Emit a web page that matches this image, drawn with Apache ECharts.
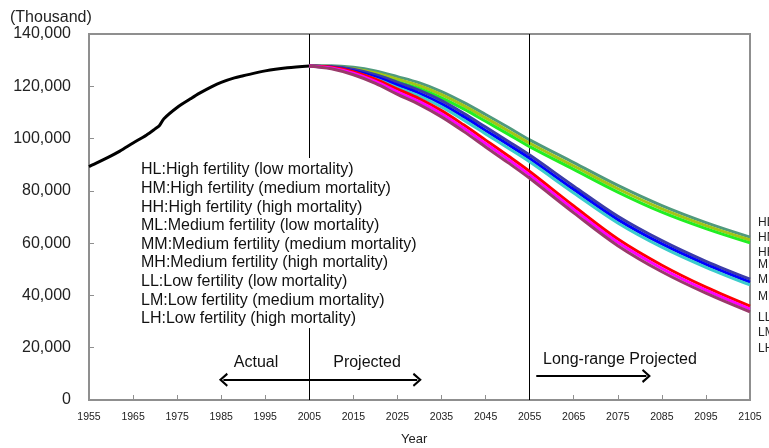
<!DOCTYPE html>
<html>
<head>
<meta charset="utf-8">
<script src="https://cdn.jsdelivr.net/npm/echarts@6/dist/echarts.min.js"></script>
<style>
  html, body { margin: 0; padding: 0; background: #fff; }
  #chart { width: 769px; height: 448px; }
</style>
</head>
<body>
<div id="chart"></div>
<script>
// x axis runs in "years since 1955" so the ticks start at 1955
const BASE_YEAR = 1955;

const actualYears = [1955, 1957, 1960, 1962, 1965, 1968, 1970, 1971, 1972, 1975, 1978, 1980, 1983, 1985, 1988, 1990, 1995, 2000, 2005];
const actualPop = [89300, 90900, 93400, 95200, 98300, 101300, 103700, 105000, 107600, 111900, 115200, 117300, 120000, 121500, 123200, 124000, 125900, 127100, 127800];

const projYears = [2005, 2010, 2015, 2020, 2025, 2030, 2035, 2040, 2045, 2050, 2055, 2065, 2075, 2085, 2095, 2105];
const hl = [127800, 127900, 127300, 125900, 123700, 121300, 118000, 113850, 109200, 104400, 99500, 90800, 82080, 74350, 67850, 62300];
const hm = [127800, 127600, 126700, 125100, 122700, 120200, 116800, 112600, 107900, 103100, 98200, 89500, 80800, 73100, 66700, 61200];
const hh = [127800, 127300, 126100, 124300, 121700, 119100, 115600, 111350, 106600, 101800, 96900, 88200, 79520, 71850, 65550, 60100];
const ml = [127800, 127600, 126500, 124400, 121500, 118400, 114500, 109650, 104400, 99100, 93700, 81800, 70280, 60950, 53050, 46200];
const mm = [127800, 127300, 125900, 123600, 120500, 117300, 113300, 108400, 103100, 97800, 92400, 80500, 69000, 59700, 51900, 45100];
const mh = [127800, 127000, 125300, 122800, 119500, 116200, 112100, 107150, 101800, 96500, 91100, 79200, 67720, 58450, 50750, 44000];
const ll = [127800, 127300, 125600, 122700, 118900, 115200, 110700, 105250, 99400, 93500, 87400, 74200, 61580, 51550, 43150, 35900];
const lm = [127800, 127000, 125000, 121900, 117900, 114100, 109500, 104000, 98100, 92200, 86100, 72900, 60300, 50300, 42000, 34800];
const lh = [127800, 126700, 124400, 121100, 116900, 113000, 108300, 102750, 96800, 90900, 84800, 71600, 59020, 49050, 40850, 33700];

const variantNames = ['HL', 'HM', 'HH', 'ML', 'MM', 'MH', 'LL', 'LM', 'LH'];
const variantData = [hl, hm, hh, ml, mm, mh, ll, lm, lh];
const variantColors = ['#4f9a7c', '#a3c515', '#22ee22', '#3c3ca8', '#0000ff', '#3ccccc', '#ff0000', '#ff00ff', '#9a3a6a'];

const legendLines = [
  'HL:High fertility (low mortality)',
  'HM:High fertility (medium mortality)',
  'HH:High fertility (high mortality)',
  'ML:Medium fertility (low mortality)',
  'MM:Medium fertility (medium mortality)',
  'MH:Medium fertility (high mortality)',
  'LL:Low fertility (low mortality)',
  'LM:Low fertility (medium mortality)',
  'LH:Low fertility (high mortality)'
];
const endLabels = ['HL', 'HM', 'HH', 'ML', 'MM', 'MH', 'LL', 'LM', 'LH'];
const endLabelY = [223, 238, 253, 265, 280, 297, 318, 333, 349];

const yTicks = { min: 0, max: 140000, interval: 20000 };
const xTicks = { min: 1955, max: 2105, interval: 10 };
const dividerYears = [2005, 2055];

const FONT = '"Liberation Sans", Arial, sans-serif';
const chevron = 'path://M6,0 L12,8 L10.4,9.2 L6,3.2 L1.6,9.2 L0,8 Z';

const toX = y => y - BASE_YEAR;
const fmtThousands = v => String(v).replace(/\B(?=(\d{3})+(?!\d))/g, ',');

const chart = echarts.init(document.getElementById('chart'), null, { renderer: 'canvas' });

const series = [];
variantNames.forEach((name, i) => {
  series.push({
    name: name,
    type: 'line',
    data: projYears.map((yr, k) => [toX(yr), variantData[i][k]]),
    showSymbol: false,
    smooth: 0.35,
    lineStyle: { color: variantColors[i], width: 3 },
    z: 3 + i
  });
});

series.unshift({
  name: 'Actual',
  type: 'line',
  data: actualYears.map((yr, k) => [toX(yr), actualPop[k]]),
  showSymbol: false,
  smooth: 0.3,
  lineStyle: { color: '#000', width: 3 },
  z: 2,
  markLine: {
    silent: true,
    symbol: 'none',
    label: { show: false },
    lineStyle: { color: '#000', width: 1, type: 'solid' },
    data: dividerYears.map(yr => ({ xAxis: toX(yr) }))
  }
});

// annotation arrows
series.push({
  name: 'arrows',
  type: 'line',
  data: [],
  markLine: {
    silent: true,
    animation: false,
    label: { show: false },
    lineStyle: { color: '#000', width: 2, type: 'solid' },
    data: [
      [
        { coord: [toX(1985.5), 7700], symbol: chevron, symbolSize: [14, 9] },
        { coord: [toX(2029.5), 7700], symbol: chevron, symbolSize: [14, 9] }
      ],
      [
        { coord: [toX(2056.5), 9200], symbol: 'none' },
        { coord: [toX(2081.5), 9200], symbol: chevron, symbolSize: [14, 9] }
      ]
    ]
  }
});

const graphics = [
  { type: 'text', left: 10, top: 10, style: { text: '(Thousand)', font: '16px ' + FONT, fill: '#222' } },
  { type: 'rect', shape: { x: 136, y: 158, width: 285, height: 170 }, style: { fill: '#fff' }, z: 100 },
  { type: 'text', left: 401, top: 433, style: { text: 'Year', font: '13px ' + FONT, fill: '#222' } },
  { type: 'text', x: 256, y: 363, style: { text: 'Actual', font: '16px ' + FONT, fill: '#111', align: 'center', verticalAlign: 'middle' }, z: 100 },
  { type: 'text', x: 367, y: 363, style: { text: 'Projected', font: '16px ' + FONT, fill: '#111', align: 'center', verticalAlign: 'middle' }, z: 100 },
  { type: 'text', x: 543, y: 360, style: { text: 'Long-range Projected', font: '16px ' + FONT, fill: '#111', verticalAlign: 'middle' }, z: 100 }
];
legendLines.forEach((t, i) => {
  graphics.push({
    type: 'text', x: 141, y: 170 + i * 18.6, z: 101,
    style: { text: t, font: '16px ' + FONT, fill: '#111', verticalAlign: 'middle' }
  });
});
endLabels.forEach((t, i) => {
  graphics.push({
    type: 'text', x: 758, y: endLabelY[i], z: 101,
    style: { text: t, font: '12px ' + FONT, fill: '#222', verticalAlign: 'middle' }
  });
});

const option = {
  backgroundColor: '#fff',
  animation: false,
  grid: {
    left: 89,
    right: 19,
    top: 34,
    bottom: 48,
    show: true,
    borderColor: '#8f8f8f',
    borderWidth: 2
  },
  xAxis: {
    type: 'value',
    min: toX(xTicks.min),
    max: toX(xTicks.max),
    interval: xTicks.interval,
    axisLine: { lineStyle: { color: '#8f8f8f', width: 2 } },
    axisTick: { inside: true, length: 5, lineStyle: { color: '#8f8f8f' } },
    axisLabel: {
      color: '#222',
      fontSize: 10.5,
      fontFamily: FONT,
      margin: 12,
      formatter: v => String(v + BASE_YEAR)
    },
    splitLine: { show: false }
  },
  yAxis: {
    type: 'value',
    min: yTicks.min,
    max: yTicks.max,
    interval: yTicks.interval,
    axisLine: { show: true, lineStyle: { color: '#8f8f8f', width: 2 } },
    axisTick: { show: true, inside: true, length: 5, lineStyle: { color: '#8f8f8f' } },
    axisLabel: {
      color: '#222',
      fontSize: 16,
      fontFamily: FONT,
      margin: 18,
      formatter: fmtThousands
    },
    splitLine: { show: false }
  },
  graphic: graphics,
  series: series
};

chart.setOption(option);
</script>
</body>
</html>
